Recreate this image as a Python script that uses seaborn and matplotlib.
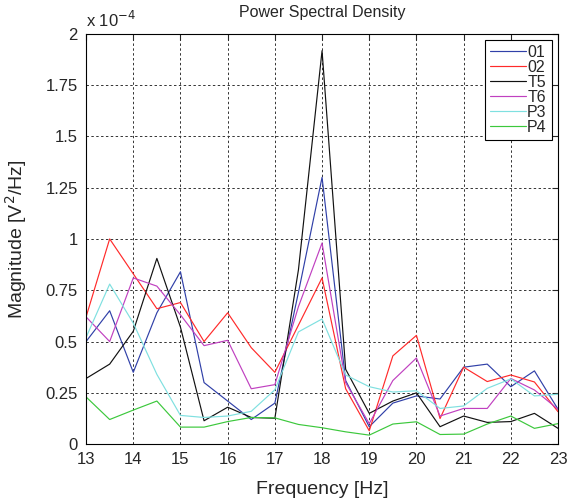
import numpy as np
import pandas as pd
import matplotlib
matplotlib.use("Agg")
import matplotlib.pyplot as plt
import seaborn as sns
from matplotlib.ticker import FuncFormatter

freq = [13, 13.5, 14, 14.5, 15, 15.5, 16, 16.5, 17, 17.5, 18, 18.5, 19, 19.5,
        20, 20.5, 21, 21.5, 22, 22.5, 23]

# magnitudes in units of 1e-4 V^2/Hz
ch_01 = [0.50, 0.65, 0.35, 0.64, 0.84, 0.30, 0.21, 0.12, 0.20, 0.74, 1.30, 0.31,
         0.085, 0.20, 0.235, 0.22, 0.375, 0.39, 0.28, 0.357, 0.17]
ch_02 = [0.62, 1.00, 0.83, 0.66, 0.69, 0.50, 0.64, 0.47, 0.35, 0.58, 0.81, 0.27,
         0.065, 0.43, 0.53, 0.125, 0.375, 0.305, 0.337, 0.303, 0.158]
ch_T5 = [0.32, 0.39, 0.55, 0.905, 0.57, 0.114, 0.18, 0.13, 0.126, 0.85, 1.917, 0.365,
         0.15, 0.21, 0.25, 0.085, 0.137, 0.106, 0.11, 0.15, 0.077]
ch_T6 = [0.62, 0.50, 0.81, 0.77, 0.63, 0.48, 0.506, 0.27, 0.29, 0.67, 0.98, 0.30,
         0.10, 0.31, 0.42, 0.137, 0.174, 0.174, 0.32, 0.264, 0.17]
ch_P3 = [0.52, 0.78, 0.59, 0.34, 0.14, 0.13, 0.137, 0.16, 0.265, 0.547, 0.61, 0.337,
         0.28, 0.254, 0.26, 0.174, 0.186, 0.272, 0.318, 0.235, 0.243]
ch_P4 = [0.23, 0.12, 0.166, 0.21, 0.083, 0.083, 0.11, 0.13, 0.128, 0.096, 0.08, 0.06,
         0.044, 0.098, 0.109, 0.047, 0.049, 0.098, 0.137, 0.077, 0.10]

labels = ["01", "02", "T5", "T6", "P3", "P4"]
colors = ["#3040a8", "#ff2a2a", "#111111", "#c040c0", "#7fe0e0", "#3cc83c"]
series = [ch_01, ch_02, ch_T5, ch_T6, ch_P3, ch_P4]

rows = []
for lab, vals in zip(labels, series):
    for f, v in zip(freq, vals):
        rows.append({"Frequency": f, "Magnitude": v * 1e-4, "Channel": lab})
df = pd.DataFrame(rows)

sns.set_style("white")
plt.rcParams["font.family"] = ["Liberation Sans", "DejaVu Sans"]

fig = plt.figure(figsize=(5.7, 5.03), dpi=100)
ax = fig.add_axes([0.151, 0.117, 0.828, 0.816])

sns.lineplot(data=df, x="Frequency", y="Magnitude", hue="Channel",
             palette=dict(zip(labels, colors)), linewidth=0.85, ax=ax)

ax.set_xlim(13, 23)
ax.set_ylim(0, 2e-4)
ax.set_xticks(np.arange(13, 23.5, 1))
ax.set_yticks(np.arange(0, 2.01e-4, 0.25e-4))
ax.yaxis.set_major_formatter(FuncFormatter(lambda v, p: f"{v * 1e4:g}"))
ax.grid(True, color="#333333", linestyle=(0, (2.5, 2.5)), linewidth=0.7)
ax.tick_params(direction="in", top=True, right=True, labelsize=12, length=4)
ax.tick_params(axis="x", pad=6)
ax.tick_params(axis="y", pad=6)
for s in ax.spines.values():
    s.set_color("black")
    s.set_linewidth(0.8)

ax.set_xlabel("Frequency [Hz]", fontsize=14, labelpad=10)
ax.set_ylabel("Magnitude [V$^2$/Hz]", fontsize=14, labelpad=12)
ax.set_title("Power Spectral Density", fontsize=11.5, pad=12)
ax.text(0.0, 1.01, "x 10$^{-4}$", transform=ax.transAxes, fontsize=12,
        ha="left", va="bottom")

leg = ax.legend(loc="upper right", fontsize=11.5, handlelength=2.3,
                handletextpad=0.05, labelspacing=0.0, borderpad=0.3,
                fancybox=False, framealpha=1, edgecolor="black",
                title=None, borderaxespad=0.4)
leg.get_frame().set_linewidth(0.8)

fig.savefig("out.png", dpi=100)
